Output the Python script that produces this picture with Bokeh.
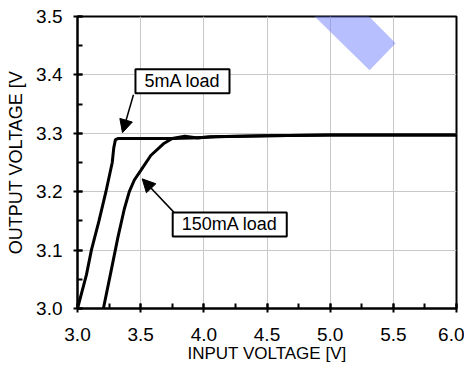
from bokeh.plotting import figure
from bokeh.models import (FixedTicker, NumeralTickFormatter, Label, Arrow, NormalHead,
                          PolyAnnotation, Range1d)
from bokeh.embed import file_html
from bokeh.resources import INLINE

# --- data ---
vin_5ma = [3.0, 3.071, 3.11, 3.17, 3.225, 3.275, 3.287, 3.30, 3.32, 3.5, 3.75, 3.9, 4.1, 4.5, 5.0, 6.0]
vout_5ma = [3.0, 3.058, 3.1, 3.15, 3.2, 3.25, 3.275, 3.289, 3.291, 3.291, 3.291, 3.292, 3.294, 3.296, 3.297, 3.297]

vin_150ma = [3.205, 3.26, 3.319, 3.37, 3.41, 3.45, 3.5, 3.58, 3.68, 3.75, 3.85, 3.95, 4.05, 4.5, 5.0, 6.0]
vout_150ma = [3.0, 3.058, 3.121, 3.17, 3.2, 3.22, 3.236, 3.262, 3.282, 3.291, 3.295, 3.292, 3.294, 3.296, 3.297, 3.297]

x_ticks = [3.0, 3.5, 4.0, 4.5, 5.0, 5.5, 6.0]
x_minor = [3.0, 3.25, 3.5, 3.75, 4.0, 4.25, 4.5, 4.75, 5.0, 5.25, 5.5, 5.75, 6.0]
y_ticks = [3.0, 3.1, 3.2, 3.3, 3.4, 3.5]
y_minor = [3.0, 3.05, 3.1, 3.15, 3.2, 3.25, 3.3, 3.35, 3.4, 3.45, 3.5]

FONT = "Liberation Sans"

p = figure(width=464, height=366, output_backend="svg", toolbar_location=None,
           x_range=Range1d(3.0, 6.0), y_range=Range1d(3.0, 3.5),
           min_border_left=77, min_border_right=8, min_border_top=16, min_border_bottom=58)
p.background_fill_color = "white"
p.border_fill_color = "white"
p.outline_line_color = "black"
p.outline_line_width = 2

p.xaxis.ticker = FixedTicker(ticks=x_ticks, minor_ticks=x_minor)
p.yaxis.ticker = FixedTicker(ticks=y_ticks, minor_ticks=y_minor)
for ax in (p.xaxis, p.yaxis):
    ax.formatter = NumeralTickFormatter(format="0.0")
    ax.axis_line_color = "black"
    ax.axis_line_width = 2
    ax.major_tick_line_color = "black"
    ax.major_tick_line_width = 2
    ax.minor_tick_line_color = "black"
    ax.minor_tick_line_width = 2
    ax.major_tick_in = 5
    ax.major_tick_out = 4
    ax.minor_tick_in = 5
    ax.minor_tick_out = 0
    ax.major_label_text_font = FONT
    ax.major_label_text_font_size = "19px"
    ax.major_label_text_color = "black"
    ax.axis_label_text_font = FONT
    ax.axis_label_text_font_style = "normal"
    ax.axis_label_text_color = "black"

p.xaxis.axis_label = "INPUT VOLTAGE [V]"
p.xaxis.axis_label_text_font_size = "17px"
p.xaxis.axis_label_standoff = 0
p.xaxis.major_label_standoff = 15
p.yaxis.axis_label = "OUTPUT VOLTAGE [V"
p.yaxis.axis_label_text_font_size = "18px"
p.yaxis.axis_label_standoff = 7
p.yaxis.major_label_standoff = 11

p.grid.grid_line_color = "#c8c8c8"
p.grid.grid_line_width = 1

# light blue watermark stripe (decoration)
p.add_layout(PolyAnnotation(xs=[4.750, 5.185, 5.518, 5.312], ys=[3.527, 3.527, 3.454, 3.408],
                            fill_color="#6f7fff", fill_alpha=0.5, line_alpha=0))

p.line(vin_5ma, vout_5ma, line_color="black", line_width=3)
p.line(vin_150ma, vout_150ma, line_color="black", line_width=3)

# annotations
p.add_layout(Arrow(end=NormalHead(size=13, fill_color="black", line_color="black"),
                   x_start=3.443, y_start=3.366, x_end=3.356, y_end=3.301,
                   line_color="black", line_width=1.5))
p.add_layout(Arrow(end=NormalHead(size=13, fill_color="black", line_color="black"),
                   x_start=3.762, y_start=3.165, x_end=3.512, y_end=3.222,
                   line_color="black", line_width=1.5))

for txt, cx, cy in (("5mA load", 3.831, 3.389), ("150mA load", 4.205, 3.144)):
    p.add_layout(Label(x=cx, y=cy, text=txt, text_align="center", text_baseline="middle",
                       text_font=FONT, text_font_size="18px", text_color="black",
                       background_fill_color="white", border_line_color="black",
                       border_line_width=2, padding=dict(x=9, y=2)))

open("out.html", "w").write(file_html(p, INLINE))
